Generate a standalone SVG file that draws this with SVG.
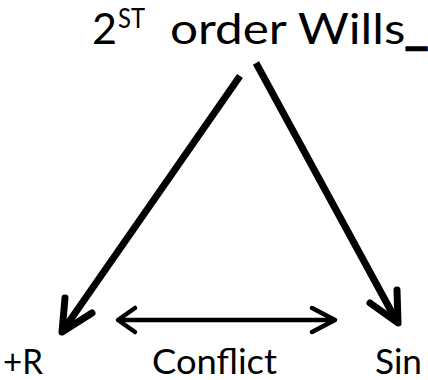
<svg xmlns="http://www.w3.org/2000/svg" width="428" height="380" viewBox="0 0 428 380">
  <style>
    .label { font-family: Lato, "Open Sans", "Liberation Sans", sans-serif; fill: #000; }
    .heavy { stroke: #000; stroke-width: 2.5; }
    .shaft { fill: none; stroke: #000; stroke-width: 7; stroke-linecap: butt; }
    .head { fill: none; stroke: #000; stroke-width: 7; stroke-linecap: round; stroke-linejoin: round; }
    .shaft-thin { fill: none; stroke: #000; stroke-width: 4.5; stroke-linecap: butt; }
    .head-thin { fill: none; stroke: #000; stroke-width: 4.5; stroke-linecap: round; stroke-linejoin: round; }
  </style>

  <g id="title">
    <text class="label" x="92" y="44" font-size="43" textLength="25" lengthAdjust="spacingAndGlyphs">2</text>
    <text class="label" x="118" y="28" font-size="27" textLength="27" lengthAdjust="spacingAndGlyphs">ST</text>
    <text class="label" x="170" y="44" font-size="43" textLength="258" lengthAdjust="spacingAndGlyphs">order Wills<tspan class="heavy">_</tspan></text>
  </g>

  <g id="node-plus-r">
    <text class="label" x="3" y="374" font-size="34" textLength="40" lengthAdjust="spacingAndGlyphs">+R</text>
  </g>
  <g id="node-conflict">
    <text class="label" x="152" y="374" font-size="34" textLength="125" lengthAdjust="spacingAndGlyphs">Conflict</text>
  </g>
  <g id="node-sin">
    <text class="label" x="375" y="374" font-size="34" textLength="47" lengthAdjust="spacingAndGlyphs">Sin</text>
  </g>

  <g id="connectors">
    <!-- title to +R -->
    <path class="shaft" d="M240,76 L64,329"/>
    <path class="head" d="M65,298 L62,332 L92,313"/>
    <!-- title to Sin -->
    <path class="shaft" d="M256,63 L396,320"/>
    <path class="head" d="M397,290 L398,323 L370,303"/>
    <!-- +R / Sin conflict, two-way -->
    <path class="shaft-thin" d="M120,320 L333,320"/>
    <path class="head-thin" d="M135,308 L118,320 L135,332"/>
    <path class="head-thin" d="M312,308 L335,320 L312,332"/>
  </g>
</svg>
